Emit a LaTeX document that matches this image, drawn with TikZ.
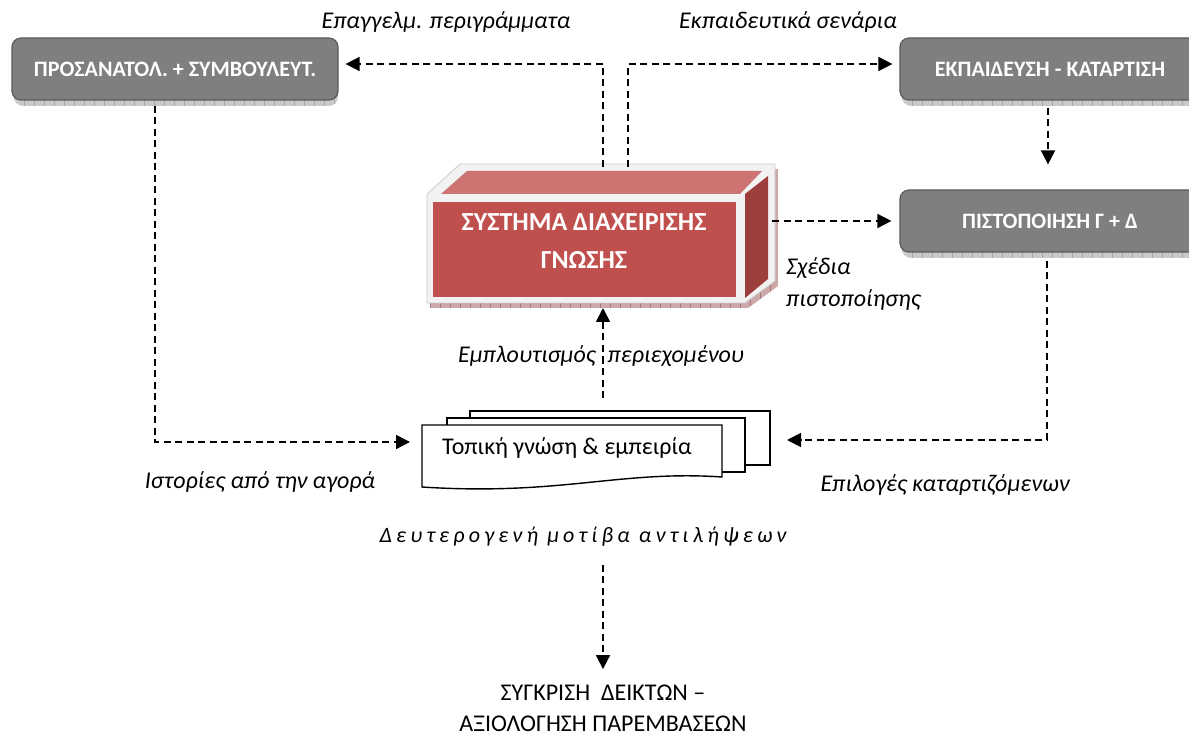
\documentclass[tikz,border=0pt]{standalone}
\usepackage{fontspec}
\setmainfont{Carlito}
\usetikzlibrary{arrows.meta,calc}
\definecolor{boxgray}{HTML}{7F7F7F}
\definecolor{boxedge}{HTML}{5A5A5A}
\definecolor{boxshadow}{HTML}{CACACA}
\definecolor{boxtick}{HTML}{A8A8A8}
\definecolor{sysfront}{HTML}{C0504D}
\definecolor{systop}{HTML}{CD7371}
\definecolor{sysside}{HTML}{9B3E3C}
\definecolor{sysrim}{HTML}{F2F2F2}
\definecolor{sysshadow}{HTML}{CDA8A8}
\definecolor{systick}{HTML}{A87878}
\begin{document}
\begin{tikzpicture}[x=1pt,y=-1pt,
  graybox/.style={draw=boxedge, line width=1.2pt, fill=boxgray, rounded corners=9pt,
    minimum height=62pt, text=white, font=\fontsize{22}{26}\selectfont\bfseries},
  dasharrow/.style={draw, line width=1.7pt, dash pattern=on 7pt off 4.5pt,
    -{Triangle[length=14pt,width=14pt]}},
  lbl/.style={font=\fontsize{24}{32}\selectfont\itshape, inner sep=0pt},
  docpage/.style={draw, line width=1.4pt, fill=white, line join=miter}]
\useasboundingbox (0,0) rectangle (1189,735);
\clip (0,0) rectangle (1189,735);

% --- grey boxes with their ticked shadows ---
\foreach \xa/\xb/\ya in {14/338/44, 902/1210/44, 902/1210/196}{
  \begin{scope}
    \clip[rounded corners=9pt] (\xa,\ya) rectangle (\xb,\ya+62);
    \fill[boxshadow] (\xa,\ya) rectangle (\xb,\ya+62);
    \foreach \k in {0,...,32}{\draw[boxtick, line width=0.5pt] (\xa+10*\k,\ya) -- (\xa+10*\k,\ya+62);}
  \end{scope}}
\node[graybox, minimum width=326pt] (pros) at (175,69) {ΠΡΟΣΑΝΑΤΟΛ. + ΣΥΜΒΟΥΛΕΥΤ.};
\node[graybox, minimum width=300pt] (ekp) at (1050,69) {ΕΚΠΑΙΔΕΥΣΗ - ΚΑΤΑΡΤΙΣΗ};
\node[graybox, minimum width=300pt] (pist) at (1050,221) {ΠΙΣΤΟΠΟΙΗΣΗ Γ + Δ};

% --- knowledge system cuboid ---
\begin{scope}[shift={(3,5)}]
  \clip (427,194) -- (460,164) -- (775,164) -- (775,281) -- (745,303) -- (427,303) -- cycle;
  \fill[sysshadow] (427,164) rectangle (775,303);
  \foreach \k in {0,...,35}{\draw[systick, line width=0.5pt] (427+10*\k,164) -- (427+10*\k,303);}
\end{scope}
\filldraw[fill=sysrim, draw=black!20, line width=0.8pt]
  (427,194) -- (460,164) -- (775,164) -- (775,281) -- (745,303) -- (427,303) -- cycle;
\fill[systop] (441,194) -- (467,171) -- (762,171) -- (740,194) -- cycle;
\fill[sysfront] (433,202) rectangle (736,297);
\fill[sysside] (745,194) -- (768,176) -- (768,279) -- (745,298) -- cycle;
\node[align=center, text=white, font=\fontsize{26}{38}\selectfont\bfseries] (sys) at (584,241)
  {ΣΥΣΤΗΜΑ ΔΙΑΧΕΙΡΙΣΗΣ\\ΓΝΩΣΗΣ};
\coordinate (sysT1) at (603,167);
\coordinate (sysT2) at (628,167);
\coordinate (sysR) at (772,221);
\coordinate (sysB) at (603,303);

% --- stack of documents ---
\draw[docpage] (470,411) -- (770,411) -- (770,465) -- (470,465) -- cycle;
\draw[docpage] (447,418) -- (745,418) -- (745,472) -- (447,472) -- cycle;
\draw[docpage] (422,425) -- (722,425) -- (722,477)
  .. controls (620,470) and (560,496) .. (422,487) -- cycle;
\node[font=\fontsize{24}{28}\selectfont] (doc) at (567,448) {Τοπική γνώση \& εμπειρία};
\coordinate (docT) at (603,411);
\coordinate (docL) at (422,442);
\coordinate (docR) at (770,440);

% --- connectors ---
\draw[dasharrow, shorten >=7pt] (sysT1) |- ([yshift=5pt]pros.east);
\draw[dasharrow, shorten >=7pt] (sysT2) |- ([yshift=5pt]ekp.west);
\draw[dasharrow, shorten <=7pt, shorten >=25pt] ([xshift=-2pt]ekp.south) -- ([xshift=-2pt]pist.north);
\draw[dasharrow, shorten >=8pt] (sysR) -- (pist.west);
\draw[dasharrow, shorten <=8pt, shorten >=17pt] ([xshift=-3pt]pist.south) |- (docR);
\draw[dasharrow, shorten <=5pt, shorten >=12pt] ([xshift=-20pt]pros.south) |- (docL);
\draw[dasharrow, shorten <=13pt, shorten >=5pt] (docT) -- (sysB);

% --- labels ---
\node[lbl] (lpros) at (446,22) {Επαγγελμ. περιγράμματα};
\node[lbl] (lekp) at (788,22) {Εκπαιδευτικά σενάρια};
\node[lbl, align=left, anchor=west] (lpist) at (786,284) {Σχέδια\\πιστοποίησης};
\node[lbl] (lemp) at (601,356) {Εμπλουτισμός\hspace{12pt}περιεχομένου};
\node[lbl] (list) at (260,482) {Ιστορίες από την αγορά};
\node[lbl] (lepi) at (945,485) {Επιλογές καταρτιζόμενων};
\node[lbl, font=\fontsize{22}{26}\selectfont\itshape\addfontfeature{LetterSpace=19}] (motiv) at (583,537)
  {Δευτερογενή μοτίβα αντιλήψεων};
\node[align=center, font=\fontsize{24}{31}\selectfont] (res) at (603,708)
  {ΣΥΓΚΡΙΣΗ\ \ ΔΕΙΚΤΩΝ –\\ΑΞΙΟΛΟΓΗΣΗ ΠΑΡΕΜΒΑΣΕΩΝ};
\draw[dasharrow, shorten <=18pt] (motiv.south -| res.north) -- ([yshift=12pt]res.north);
\end{tikzpicture}
\end{document}
